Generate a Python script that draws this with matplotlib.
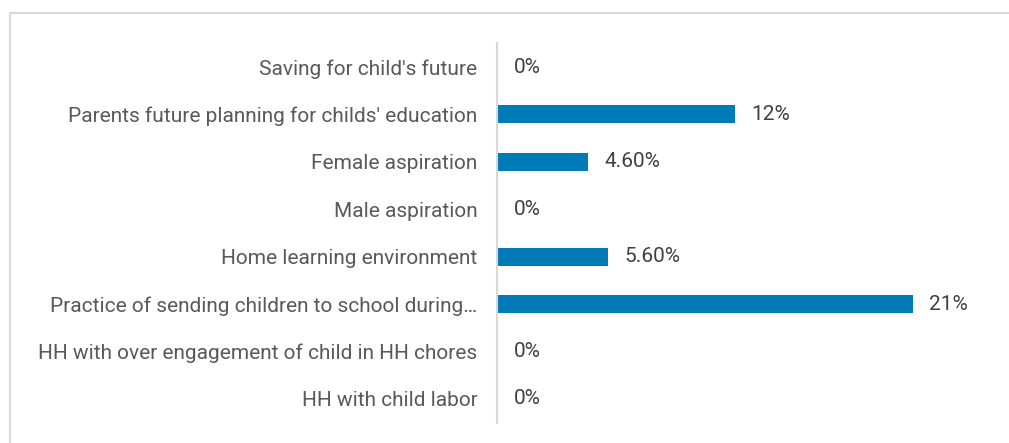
import matplotlib
matplotlib.use("Agg")
import matplotlib.pyplot as plt
from matplotlib.patches import Rectangle

# Categories top to bottom
categories = [
    "Saving for child's future",
    "Parents future planning for childs' education",
    "Female aspiration",
    "Male aspiration",
    "Home learning environment",
    "Practice of sending children to school during\u2026",
    "HH with over engagement of child in HH chores",
    "HH with child labor",
]
values = [0, 12, 4.6, 0, 5.6, 21, 0, 0]
value_labels = ["0%", "12%", "4.60%", "0%", "5.60%", "21%", "0%", "0%"]

plt.rcParams["font.family"] = ["Roboto", "DejaVu Sans"]

W, H = 1009, 443
fig = plt.figure(figsize=(W / 100, H / 100), dpi=100, facecolor="white")

# light gray frame (top and left edges visible)
fig.patches.append(
    Rectangle((10 / W, -0.1), 1.2, (H - 13) / H + 0.1, transform=fig.transFigure,
              fill=False, edgecolor="#d9d9d9", linewidth=1.5, zorder=0)
)

left = 497 / W
right = 992 / W
top = (H - 43.3) / H
bottom = (H - 422.7) / H
ax = fig.add_axes([left, bottom, right - left, top - bottom])

y = list(range(len(categories)))
ax.barh(y, values, height=0.38, color="#007bb8")
ax.set_xlim(0, 25)
ax.set_ylim(len(categories) - 0.5, -0.5)

ax.set_yticks(y)
ax.set_yticklabels(categories, fontsize=15, color="#595959")
ax.tick_params(axis="y", length=0, pad=14)
ax.set_xticks([])

for s in ["top", "right", "bottom"]:
    ax.spines[s].set_visible(False)
ax.spines["left"].set_color("#d9d9d9")
ax.spines["left"].set_linewidth(1.5)

for yi, v, lab in zip(y, values, value_labels):
    ax.annotate(lab, xy=(v, yi), xytext=(12, 0), textcoords="offset points",
                va="center", ha="left", fontsize=15, color="#404040")

fig.savefig("out.png", dpi=100, facecolor="white")
